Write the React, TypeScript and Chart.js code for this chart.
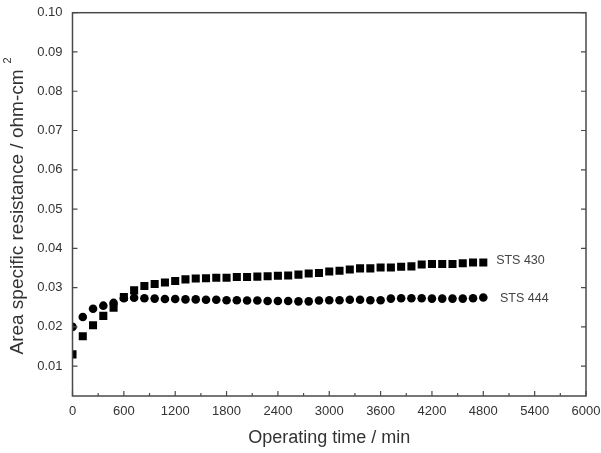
import { useEffect, useRef } from "react";
import { Chart, registerables } from "chart.js";

Chart.register(...registerables);

const times = [
  0, 120, 240, 360, 480, 600, 720, 840, 960, 1080, 1200, 1320, 1440, 1560, 1680, 1800, 1920, 2040,
  2160, 2280, 2400, 2520, 2640, 2760, 2880, 3000, 3120, 3240, 3360, 3480, 3600, 3720, 3840, 3960,
  4080, 4200, 4320, 4440, 4560, 4680, 4800,
];

const sts430 = [
  0.013, 0.0176, 0.0204, 0.0228, 0.0249, 0.0276, 0.0293, 0.0304, 0.0309, 0.0313, 0.0317, 0.0321,
  0.0323, 0.0324, 0.0325, 0.0325, 0.0327, 0.0327, 0.0328, 0.0329, 0.033, 0.0331, 0.0333, 0.0336,
  0.0337, 0.0341, 0.0343, 0.0346, 0.0349, 0.0349, 0.0351, 0.0351, 0.0353, 0.0354, 0.0359, 0.036,
  0.036, 0.036, 0.0362, 0.0364, 0.0364,
];

const sts444 = [
  0.02, 0.0225, 0.0246, 0.0254, 0.0261, 0.0273, 0.0274, 0.0273, 0.0272, 0.0271, 0.0271, 0.027,
  0.027, 0.0269, 0.0269, 0.0268, 0.0268, 0.0267, 0.0267, 0.0266, 0.0266, 0.0266, 0.0265, 0.0265,
  0.0267, 0.0268, 0.0268, 0.0269, 0.0269, 0.0268, 0.0268, 0.0272, 0.0273, 0.0273, 0.0273, 0.0272,
  0.0272, 0.0272, 0.0272, 0.0273, 0.0275,
];

const xTicks = [0, 600, 1200, 1800, 2400, 3000, 3600, 4200, 4800, 5400, 6000];
const xMinorTicks = [300, 900, 1500, 2100, 2700, 3300, 3900, 4500, 5100, 5700];
const yTicks = [0.01, 0.02, 0.03, 0.04, 0.05, 0.06, 0.07, 0.08, 0.09, 0.1];

const seriesLabels = [
  { text: "STS 430", x: 4950, y: 0.037 },
  { text: "STS 444", x: 4995, y: 0.0273 },
];

const xTitle = "Operating time / min";
const yTitle = "Area specific resistance / ohm-cm";
const yTitleSup = "2";

const FONT = "'Liberation Sans', Arial, sans-serif";

const framePlugin = {
  id: "frameAndTicks",
  afterDraw(chart: any) {
    const { ctx, chartArea } = chart;
    const xs = chart.scales.x;
    const ys = chart.scales.y;
    const { left, right, top, bottom } = chartArea;
    ctx.save();
    ctx.strokeStyle = "#4a4a4a";
    ctx.lineWidth = 1.5;
    ctx.strokeRect(left, top, right - left, bottom - top);
    ctx.lineWidth = 1.2;
    ctx.beginPath();
    xTicks.forEach((v) => {
      const px = xs.getPixelForValue(v);
      ctx.moveTo(px, bottom);
      ctx.lineTo(px, bottom - 5);
    });
    xMinorTicks.forEach((v) => {
      const px = xs.getPixelForValue(v);
      ctx.moveTo(px, bottom);
      ctx.lineTo(px, bottom - 3);
    });
    yTicks.forEach((v) => {
      const py = ys.getPixelForValue(v);
      ctx.moveTo(left, py);
      ctx.lineTo(left + 5, py);
      ctx.moveTo(right, py);
      ctx.lineTo(right - 5, py);
    });
    ctx.stroke();

    // series labels
    ctx.fillStyle = "#444";
    ctx.font = `12.5px ${FONT}`;
    ctx.textAlign = "left";
    ctx.textBaseline = "middle";
    seriesLabels.forEach((l) => {
      ctx.fillText(l.text, xs.getPixelForValue(l.x), ys.getPixelForValue(l.y));
    });

    // x title
    ctx.fillStyle = "#333";
    ctx.font = `18px ${FONT}`;
    ctx.textAlign = "center";
    ctx.textBaseline = "middle";
    ctx.fillText(xTitle, (left + right) / 2, 438);

    // y title
    ctx.save();
    ctx.translate(18, 212);
    ctx.rotate(-Math.PI / 2);
    ctx.font = `19px ${FONT}`;
    ctx.fillText(yTitle, 0, 0);
    const w = ctx.measureText(yTitle).width;
    ctx.font = `11px ${FONT}`;
    ctx.textAlign = "left";
    ctx.fillText(yTitleSup, w / 2 + 6, -10);
    ctx.restore();
    ctx.restore();
  },
};

export default function App() {
  const ref = useRef<HTMLCanvasElement | null>(null);
  useEffect(() => {
    if (!ref.current) return;
    const chart = new Chart(ref.current, {
      type: "scatter",
      data: {
        datasets: [
          {
            label: "STS 430",
            data: times.map((t, i) => ({ x: t, y: sts430[i] })),
            pointStyle: "rect",
            pointRadius: 5.7,
            pointHoverRadius: 5.7,
            backgroundColor: "#000",
            borderColor: "#000",
            borderWidth: 0,
            showLine: false,
          },
          {
            label: "STS 444",
            data: times.map((t, i) => ({ x: t, y: sts444[i] })),
            pointStyle: "circle",
            pointRadius: 4.3,
            pointHoverRadius: 4.3,
            backgroundColor: "#000",
            borderColor: "#000",
            borderWidth: 0,
            showLine: false,
          },
        ],
      },
      options: {
        animation: false,
        responsive: false,
        events: [],
        layout: { padding: { left: 0, right: 15, top: 12.7, bottom: 0 } },
        plugins: { legend: { display: false }, tooltip: { enabled: false } },
        scales: {
          x: {
            type: "linear",
            min: 0,
            max: 6000,
            grid: { display: false, drawTicks: false },
            border: { display: false },
            afterBuildTicks: (s: any) => {
              s.ticks = xTicks.map((v) => ({ value: v }));
            },
            afterFit: (s: any) => {
              s.height = 57;
              s.paddingLeft = 0;
              s.paddingRight = 0;
            },
            ticks: {
              color: "#333",
              font: { size: 13, family: FONT },
              padding: 8,
              maxRotation: 0,
              autoSkip: false,
              callback: (v: any) => String(v),
            },
          },
          y: {
            type: "linear",
            min: 0.0024,
            max: 0.1,
            grid: { display: false, drawTicks: false },
            border: { display: false },
            afterBuildTicks: (s: any) => {
              s.ticks = yTicks.map((v) => ({ value: v }));
            },
            afterFit: (s: any) => {
              s.width = 72.5;
              s.paddingTop = 0;
              s.paddingBottom = 0;
            },
            ticks: {
              color: "#333",
              font: { size: 13, family: FONT },
              padding: 10,
              autoSkip: false,
              callback: (v: any) => Number(v).toFixed(2),
            },
          },
        },
      },
      plugins: [framePlugin],
    });
    return () => chart.destroy();
  }, []);
  return (
    <div style={{ position: "fixed", left: 0, top: 0, width: 601, height: 453, background: "#fff" }}>
      <canvas ref={ref} width={601} height={453} style={{ width: 601, height: 453 }} />
    </div>
  );
}
